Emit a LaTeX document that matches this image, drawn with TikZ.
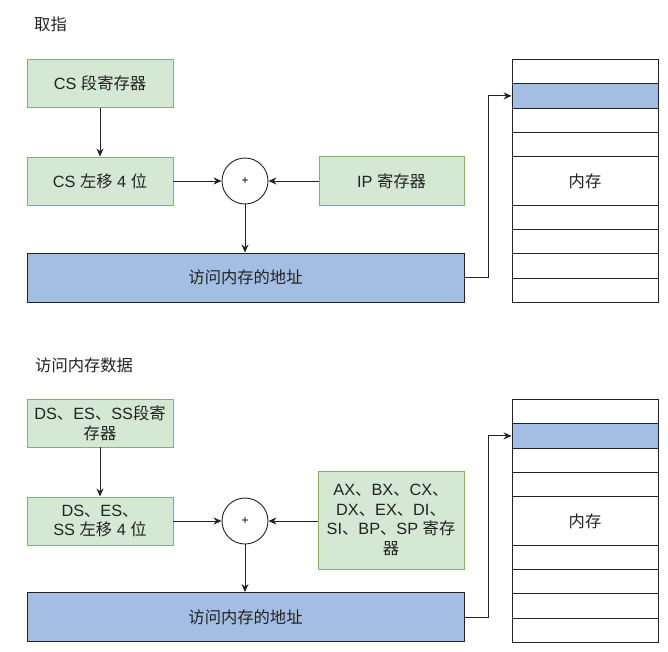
\documentclass[tikz,border=0pt]{standalone}
\usepackage{fontspec}
\setmainfont{Liberation Sans}
\newfontfamily\cjkfont{Noto Sans CJK SC}
\newcommand\zh[1]{{\cjkfont #1}}
\usetikzlibrary{arrows.meta}
\definecolor{gfill}{HTML}{D5E8D4}
\definecolor{gline}{HTML}{82B366}
\definecolor{bfill}{HTML}{A3BEE2}
\definecolor{ink}{HTML}{222222}
\begin{document}
\begin{tikzpicture}[x=1pt,y=-1pt,
  font=\fontsize{16.3}{19.5}\selectfont,
  greenbox/.style={draw=gline, fill=gfill, line width=0.9pt, minimum width=146pt, minimum height=48pt, inner sep=0pt, align=center, text=ink},
  addrbox/.style={draw=ink, fill=bfill, line width=0.9pt, minimum width=437pt, minimum height=49pt, inner sep=0pt, text=ink},
  plusnode/.style={draw=ink, fill=white, circle, line width=0.9pt, minimum size=46pt, inner sep=0pt, font=\fontsize{12}{13}\selectfont},
  cell/.style={draw=ink, line width=0.9pt, minimum width=146pt, minimum height=24.3pt, inner sep=0pt, anchor=north, text=ink},
  bigcell/.style={cell, minimum height=48.6pt},
  bluecell/.style={cell, fill=bfill},
  title/.style={anchor=west, inner sep=0pt, text=ink},
  arr/.style={draw=ink, line width=0.9pt, -{Stealth[length=8pt,width=7pt]}}
]
\useasboundingbox (0,0) rectangle (668,651);

% ---------- top: fetch ----------
\node[title] (t1) at (34,24.5) {\zh{取指}};
\node[greenbox] (cs) at (100,83.5) {CS \zh{段寄存器}};
\node[greenbox] (csl) at (100,181) {CS \zh{左移} 4 \zh{位}};
\node[plusnode] (p1) at (245,181) {+};
\node[greenbox, minimum width=145pt, minimum height=49pt] (ip) at (391.5,181) {IP \zh{寄存器}};
\node[addrbox] (a1) at (245.5,277.5) {\zh{访问内存的地址}};
\node[cell] (ma1) at (585,59) {};
\node[bluecell] (ma2) at (585,83.3) {};
\node[cell] (ma3) at (585,107.6) {};
\node[cell] (ma4) at (585,131.9) {};
\node[bigcell] (ma5) at (585,156.2) {\zh{内存}};
\node[cell] (ma6) at (585,204.8) {};
\node[cell] (ma7) at (585,229.1) {};
\node[cell] (ma8) at (585,253.4) {};
\node[cell] (ma9) at (585,277.7) {};
\draw[arr] (cs.south) -- (csl.north);
\draw[arr] (csl.east) -- (p1.west);
\draw[arr] (ip.west) -- (p1.east);
\draw[arr] (p1.south) -- (p1.south |- a1.north);
\draw[arr] (a1.east) -- ++(24,0) |- (ma2.west);

% ---------- bottom: data access ----------
\node[title] (t2) at (35,365) {\zh{访问内存数据}};
\node[greenbox] (ds) at (100,423) {DS\zh{、}ES\zh{、}SS\zh{段寄}\\\zh{存器}};
\node[greenbox] (dsl) at (100,521) {DS\zh{、}ES\zh{、}\\SS \zh{左移} 4 \zh{位}};
\node[plusnode] (p2) at (245,521) {+};
\node[greenbox, minimum height=98pt] (ax) at (391,520) {AX\zh{、}BX\zh{、}CX\zh{、}\\DX\zh{、}EX\zh{、}DI\zh{、}\\SI\zh{、}BP\zh{、}SP \zh{寄存}\\\zh{器}};
\node[addrbox] (a2) at (245.5,617) {\zh{访问内存的地址}};
\node[cell] (mb1) at (585,399) {};
\node[bluecell] (mb2) at (585,423.3) {};
\node[cell] (mb3) at (585,447.6) {};
\node[cell] (mb4) at (585,471.9) {};
\node[bigcell] (mb5) at (585,496.2) {\zh{内存}};
\node[cell] (mb6) at (585,544.8) {};
\node[cell] (mb7) at (585,569.1) {};
\node[cell] (mb8) at (585,593.4) {};
\node[cell] (mb9) at (585,617.7) {};
\draw[arr] (ds.south) -- (dsl.north);
\draw[arr] (dsl.east) -- (p2.west);
\draw[arr] (ax.west |- p2.east) -- (p2.east);
\draw[arr] (p2.south) -- (p2.south |- a2.north);
\draw[arr] (a2.east) -- ++(24,0) |- (mb2.west);
\end{tikzpicture}
\end{document}
